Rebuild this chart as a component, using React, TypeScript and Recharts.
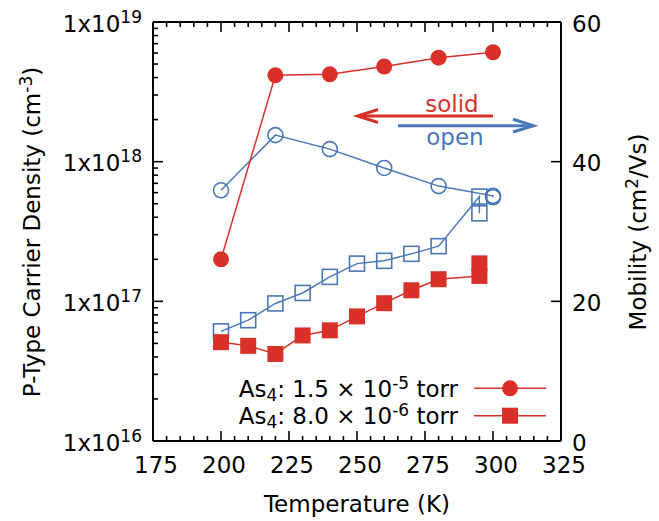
import React from 'react';
import { ComposedChart, Line, XAxis, YAxis, Legend, Customized } from 'recharts';

const RED = '#d8312a';
const BLUE = '#4a77b7';
const FONT = 23;
const SMALL = 17;

// As4 at 1.5e-5 torr (circles)
const tempsHigh = [200, 220, 240, 260, 280, 300];
const densityHigh = [2.0e17, 4.15e18, 4.22e18, 4.8e18, 5.55e18, 6.07e18];
const mobilityTempsHigh = [200, 220, 240, 260, 280, 300, 300];
const mobilityHigh = [35.9, 43.8, 41.8, 39.1, 36.5, 35.1, 34.9];

// As4 at 8.0e-6 torr (squares)
const tempsLow = [200, 210, 220, 230, 240, 250, 260, 270, 280, 295, 295];
const densityLow = [5.1e16, 4.8e16, 4.2e16, 5.7e16, 6.2e16, 7.8e16, 9.7e16, 1.2e17, 1.44e17, 1.52e17, 1.87e17];
const mobilityTempsLow = [200, 210, 220, 230, 240, 250, 260, 270, 280, 295, 295];
const mobilityLow = [15.7, 17.3, 19.7, 21.2, 23.5, 25.4, 25.8, 26.8, 27.9, 35.0, 32.6];

const seriesNames = ['As4: 1.5 x 10^-5 torr', 'As4: 8.0 x 10^-6 torr'];
const pressureMantissa = ['1.5', '8.0'];
const pressureExponent = ['-5', '-6'];

const majorTemps = [175, 200, 225, 250, 275, 300, 325];
const densityDecades = [16, 17, 18, 19];
const mobilityTicks = [0, 20, 40, 60];

const rows = (xs: number[], ys: number[]) => xs.map((t, i) => ({ t, v: ys[i] }));

// every 5 K between the labelled temperatures
const tempTicks: number[] = [];
for (let t = majorTemps[0]; t <= majorTemps[majorTemps.length - 1]; t += 5) tempTicks.push(t);

// 1..9 x 10^n inside each decade
const densityTicks: number[] = [];
densityDecades.forEach((d, i) => {
  const last = i === densityDecades.length - 1;
  for (let m = 1; m <= (last ? 1 : 9); m++) densityTicks.push(m * Math.pow(10, d));
});

const BottomTick = (props: any) => {
  const { x, y, payload } = props;
  const major = majorTemps.includes(payload.value);
  return (
    <g>
      <line x1={x} x2={x} y1={y} y2={y - (major ? 10 : 5)} stroke="#000" strokeWidth={1.6} />
      {major && (
        <text x={x + 3} y={y + 32} textAnchor="middle" fontSize={FONT} fill="#000">
          {payload.value}
        </text>
      )}
    </g>
  );
};

const TopTick = (props: any) => {
  const { x, y, payload } = props;
  const major = majorTemps.includes(payload.value);
  return <line x1={x} x2={x} y1={y} y2={y + (major ? 10 : 5)} stroke="#000" strokeWidth={1.6} />;
};

const LeftTick = (props: any) => {
  const { x, y, payload } = props;
  const e = Math.round(Math.log10(payload.value));
  const major = Math.abs(payload.value / Math.pow(10, e) - 1) < 1e-9;
  return (
    <g>
      <line x1={x} x2={x + (major ? 10 : 5)} y1={y} y2={y} stroke="#000" strokeWidth={1.6} />
      {major && (
        <text x={x - 11} y={y + 9.5} textAnchor="end" fontSize={FONT} fill="#000">
          1x10
          <tspan dy={-9} fontSize={SMALL}>
            {e}
          </tspan>
        </text>
      )}
    </g>
  );
};

const RightTick = (props: any) => {
  const { x, y, payload } = props;
  return (
    <g>
      <line x1={x} x2={x - 10} y1={y} y2={y} stroke="#000" strokeWidth={1.6} />
      <text x={x + 11} y={y + 9.5} textAnchor="start" fontSize={FONT} fill="#000">
        {payload.value}
      </text>
    </g>
  );
};

const SquareDot = (fill: string, stroke: string, size: number) => (p: any) => (
  <rect
    key={`sq-${p.index}`}
    x={p.cx - size / 2}
    y={p.cy - size / 2}
    width={size}
    height={size}
    fill={fill}
    stroke={stroke}
    strokeWidth={1.6}
  />
);

const LegendBox = (props: any) => {
  const items = (props.payload || []).filter((p: any) => seriesNames.includes(p.value));
  return (
    <svg width={340} height={60} style={{ overflow: 'visible', fontFamily: '"DejaVu Sans", sans-serif' }}>
      {items.map((item: any) => {
        const i = seriesNames.indexOf(item.value);
        const cy = 18.3 + i * 27.4;
        return (
          <g key={item.value}>
            <text x={238} y={cy + 8.3} textAnchor="end" fontSize={FONT} fill="#000">
              As
              <tspan dy={4} fontSize={SMALL}>4</tspan>
              <tspan dy={-4} fontSize={FONT}>{`: ${pressureMantissa[i]} \u00d7 10`}</tspan>
              <tspan dy={-8} fontSize={SMALL}>{pressureExponent[i]}</tspan>
              <tspan dy={8} fontSize={FONT}> torr</tspan>
            </text>
            <line x1={254} x2={326} y1={cy} y2={cy} stroke={RED} strokeWidth={1.5} />
            {item.type === 'square' ? (
              <rect x={290 - 8} y={cy - 8} width={16} height={16} fill={RED} />
            ) : (
              <circle cx={290} cy={cy} r={8} fill={RED} />
            )}
          </g>
        );
      })}
    </svg>
  );
};

const Annotations = () => (
  <g fontFamily='"DejaVu Sans", sans-serif'>
    {/* axis titles */}
    <text transform="translate(39.5,232) rotate(-90)" textAnchor="middle" fontSize={FONT} fill="#000">
      P-Type Carrier Density (cm
      <tspan dy={-8} fontSize={SMALL}>-3</tspan>
      <tspan dy={8} fontSize={FONT}>)</tspan>
    </text>
    <text transform="translate(645.5,232) rotate(-90)" textAnchor="middle" fontSize={FONT} fill="#000">
      Mobility (cm
      <tspan dy={-8} fontSize={SMALL}>2</tspan>
      <tspan dy={8} fontSize={FONT}>/Vs)</tspan>
    </text>
    <text x={357} y={511.5} textAnchor="middle" fontSize={FONT} fill="#000">
      Temperature (K)
    </text>
    {/* solid markers read on the left axis, open markers on the right */}
    <text x={452} y={112} textAnchor="middle" fontSize={FONT} fill={RED}>
      solid
    </text>
    <line x1={360} x2={493} y1={116} y2={116} stroke={RED} strokeWidth={3} />
    <polyline points="378,109.5 357.5,116 378,122.5" fill="none" stroke={RED} strokeWidth={3} />
    <line x1={398} x2={531} y1={125.7} y2={125.7} stroke={BLUE} strokeWidth={3} />
    <polyline points="513,119.3 533.5,125.7 513,132" fill="none" stroke={BLUE} strokeWidth={3} />
    <text x={455} y={145} textAnchor="middle" fontSize={FONT} fill={BLUE}>
      open
    </text>
  </g>
);

export default function App() {
  return (
    <div
      style={{
        position: 'absolute',
        left: 0,
        top: 0,
        width: 659,
        height: 521,
        background: '#fff',
        fontFamily: '"DejaVu Sans", sans-serif',
      }}
    >
      <ComposedChart width={659} height={521} margin={{ top: 12, right: 0, bottom: 0, left: 0 }}>
        <XAxis
          xAxisId="b"
          dataKey="t"
          type="number"
          domain={[175, 325]}
          ticks={tempTicks}
          interval={0}
          allowDataOverflow
          height={80}
          tickSize={0}
          tickMargin={0}
          tickLine={false}
          axisLine={{ stroke: '#000', strokeWidth: 2 }}
          tick={<BottomTick />}
        />
        <XAxis
          xAxisId="t"
          orientation="top"
          dataKey="t"
          type="number"
          domain={[175, 325]}
          ticks={tempTicks}
          interval={0}
          allowDataOverflow
          height={10}
          tickSize={0}
          tickMargin={0}
          tickLine={false}
          axisLine={{ stroke: '#000', strokeWidth: 2 }}
          tick={<TopTick />}
        />
        <YAxis
          yAxisId="n"
          orientation="left"
          type="number"
          scale="log"
          domain={[1e16, 1e19]}
          ticks={densityTicks}
          interval={0}
          allowDataOverflow
          width={153}
          tickSize={0}
          tickMargin={0}
          tickLine={false}
          axisLine={{ stroke: '#000', strokeWidth: 2 }}
          tick={<LeftTick />}
        />
        <YAxis
          yAxisId="m"
          orientation="right"
          type="number"
          domain={[0, 60]}
          ticks={mobilityTicks}
          interval={0}
          allowDataOverflow
          width={98}
          tickSize={0}
          tickMargin={0}
          tickLine={false}
          axisLine={{ stroke: '#000', strokeWidth: 2 }}
          tick={<RightTick />}
        />
        <Line
          xAxisId="b"
          yAxisId="m"
          data={rows(mobilityTempsHigh, mobilityHigh)}
          dataKey="v"
          name="mobility high"
          stroke={BLUE}
          strokeWidth={1.5}
          dot={{ r: 7.5, fill: 'none', stroke: BLUE, strokeWidth: 1.6 }}
          legendType="none"
          isAnimationActive={false}
        />
        <Line
          xAxisId="b"
          yAxisId="m"
          data={rows(mobilityTempsLow, mobilityLow)}
          dataKey="v"
          name="mobility low"
          stroke={BLUE}
          strokeWidth={1.5}
          dot={SquareDot('none', BLUE, 15)}
          legendType="none"
          isAnimationActive={false}
        />
        <Line
          xAxisId="b"
          yAxisId="n"
          data={rows(tempsHigh, densityHigh)}
          dataKey="v"
          name={seriesNames[0]}
          stroke={RED}
          strokeWidth={1.5}
          dot={{ r: 8, fill: RED, stroke: RED, strokeWidth: 0 }}
          legendType="circle"
          isAnimationActive={false}
        />
        <Line
          xAxisId="b"
          yAxisId="n"
          data={rows(tempsLow, densityLow)}
          dataKey="v"
          name={seriesNames[1]}
          stroke={RED}
          strokeWidth={1.5}
          dot={SquareDot(RED, 'none', 16)}
          legendType="square"
          isAnimationActive={false}
        />
        <Legend
          layout="vertical"
          align="center"
          verticalAlign="middle"
          wrapperStyle={{ left: 220, top: 370, width: 340, height: 60 }}
          content={<LegendBox />}
        />
        <Customized component={<Annotations />} />
      </ComposedChart>
    </div>
  );
}
